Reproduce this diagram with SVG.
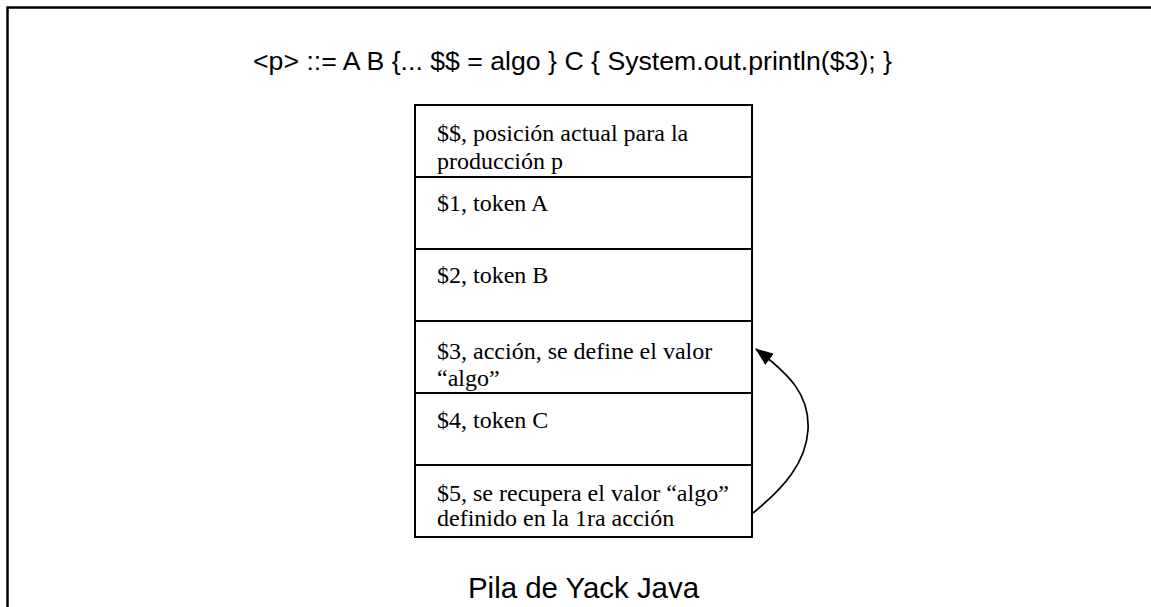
<svg xmlns="http://www.w3.org/2000/svg" width="1151" height="607" viewBox="0 0 1151 607">
  <style>
    .frame { fill: none; stroke: #000; stroke-width: 2.5; }
    .cell { fill: #fff; stroke: #000; stroke-width: 2; }
    .t { font-family: "Liberation Serif", "Times New Roman", serif; font-size: 24px; fill: #000; }
    .sans { font-family: "Liberation Sans", Arial, sans-serif; fill: #000; }
    .conn { fill: none; stroke: #000; stroke-width: 1.7; }
  </style>
  <defs>
    <marker id="ah" viewBox="0 0 18 14" refX="17" refY="7" markerWidth="18" markerHeight="14" markerUnits="userSpaceOnUse" orient="auto">
      <path d="M0,0 L18,7 L0,14 z" fill="#000"/>
    </marker>
    <clipPath id="c1"><rect x="416" y="106" width="335" height="70"/></clipPath>
    <clipPath id="c2"><rect x="416" y="178" width="335" height="70"/></clipPath>
    <clipPath id="c3"><rect x="416" y="250" width="335" height="70"/></clipPath>
    <clipPath id="c4"><rect x="416" y="322" width="335" height="70"/></clipPath>
    <clipPath id="c5"><rect x="416" y="394" width="335" height="70"/></clipPath>
    <clipPath id="c6"><rect x="416" y="466" width="335" height="70"/></clipPath>
  </defs>
  <rect width="1151" height="607" fill="#fff"/>
  <path class="frame" d="M7.5,607 L7.5,7.5 L1151,7.5"/>

  <g id="title-production">
    <text class="sans" x="253" y="70" font-size="26" textLength="639" lengthAdjust="spacingAndGlyphs">&lt;p&gt; ::= A B {... $$ = algo } C { System.out.println($3); }</text>
  </g>

  <g id="row-ss">
    <rect class="cell" x="415" y="105" width="337" height="72"/>
    <g clip-path="url(#c1)">
      <text class="t" x="437" y="141">$$, posición actual para la</text>
      <text class="t" x="437" y="169">producción p</text>
    </g>
  </g>
  <g id="row-1">
    <rect class="cell" x="415" y="177" width="337" height="72"/>
    <g clip-path="url(#c2)">
      <text class="t" x="437" y="211">$1, token A</text>
    </g>
  </g>
  <g id="row-2">
    <rect class="cell" x="415" y="249" width="337" height="72"/>
    <g clip-path="url(#c3)">
      <text class="t" x="437" y="283">$2, token B</text>
    </g>
  </g>
  <g id="row-3">
    <rect class="cell" x="415" y="321" width="337" height="72"/>
    <g clip-path="url(#c4)">
      <text class="t" x="437" y="359">$3, acción, se define el valor</text>
      <text class="t" x="437" y="386">“algo”</text>
    </g>
  </g>
  <g id="row-4">
    <rect class="cell" x="415" y="393" width="337" height="72"/>
    <g clip-path="url(#c5)">
      <text class="t" x="437" y="428">$4, token C</text>
    </g>
  </g>
  <g id="row-5">
    <rect class="cell" x="415" y="465" width="337" height="72"/>
    <g clip-path="url(#c6)">
      <text class="t" x="437" y="501">$5, se recupera el valor “algo”</text>
      <text class="t" x="437" y="526">definido en la 1ra acción</text>
    </g>
  </g>

  <g id="connectors">
    <path class="conn" d="M753,513 C785,487 806,462 808,430 C810,395 790,375 756,349" marker-end="url(#ah)"/>
  </g>

  <g id="caption">
    <text class="sans" x="468" y="598" font-size="30" textLength="231" lengthAdjust="spacingAndGlyphs">Pila de Yack Java</text>
  </g>
</svg>
